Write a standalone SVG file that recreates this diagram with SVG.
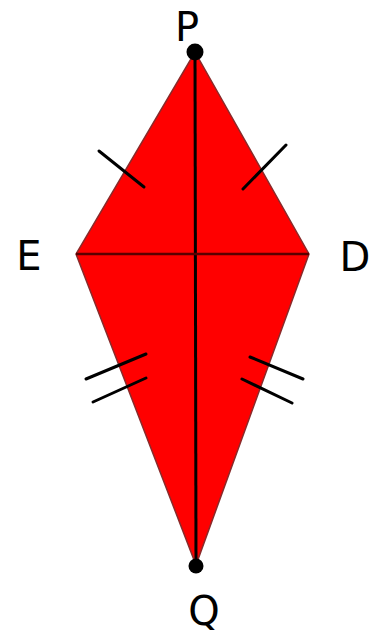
<svg xmlns="http://www.w3.org/2000/svg" width="375" height="634" viewBox="0 0 375 634">
<style>
.lbl{font-family:"DejaVu Sans","Liberation Sans",sans-serif;font-size:40px;fill:#000;text-anchor:middle}
.tick{stroke:#000;stroke-width:3;stroke-linecap:round}
.ln{stroke:#000;stroke-width:3;fill:none}
</style>
<rect width="375" height="634" fill="#fff"/>
<g id="kite">
<polygon points="195,52 309,254 196,565 76,254" fill="#ff0000" stroke="#8a2a2a" stroke-width="1.5"/>
</g>
<g id="connectors">
<line class="ln" x1="195" y1="52" x2="196" y2="565"/>
<line x1="76" y1="254" x2="309" y2="254" stroke="#5a0000" stroke-width="2.5"/>
<line class="tick" x1="99" y1="151" x2="144" y2="187"/>
<line class="tick" x1="286" y1="145" x2="243" y2="189"/>
<line class="tick" x1="86" y1="379" x2="146" y2="354"/>
<line class="tick" x1="93" y1="402" x2="146" y2="378"/>
<line class="tick" x1="250" y1="357" x2="303" y2="379"/>
<line class="tick" x1="242" y1="379" x2="292" y2="403"/>
</g>
<g id="P"><circle cx="195" cy="52" r="8.5" fill="#000"/><text class="lbl" x="187" y="41">P</text></g>
<g id="E"><text class="lbl" x="29" y="270">E</text></g>
<g id="D"><text class="lbl" x="355" y="271">D</text></g>
<g id="Q"><circle cx="196" cy="566" r="7.5" fill="#000"/><text class="lbl" x="204" y="625">Q</text></g>
</svg>
